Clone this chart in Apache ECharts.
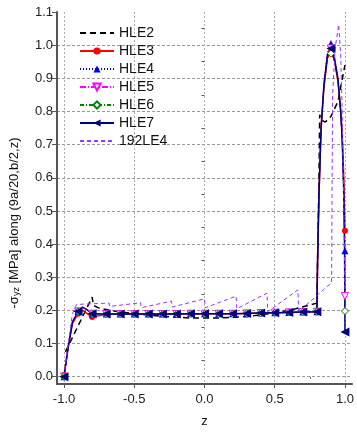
<!DOCTYPE html>
<html>
<head>
<meta charset="utf-8">
<script src="https://cdn.jsdelivr.net/npm/echarts@6/dist/echarts.min.js"></script>
<style>
  html, body { margin: 0; padding: 0; background: #fff; }
  #chart { width: 357px; height: 433px; }
</style>
</head>
<body>
<div id="chart"></div>
<script>
// tick positions
const xTicks = [-1, -0.5, 0, 0.5, 1]
const xMinor = [-0.75, -0.25, 0.25, 0.75]
const yTicks = [0, 0.1, 0.2, 0.3, 0.4, 0.5, 0.6, 0.7, 0.8, 0.9, 1.0, 1.1]
const yMinor = [0.05, 0.15, 0.25, 0.35, 0.45, 0.55, 0.65, 0.75, 0.85, 0.95, 1.05]

// z stations shared by the HLE3..HLE7 curves, markers drawn at markZ only
const zHle = [-1, -0.97, -0.94, -0.9, -0.87, -0.84, -0.8, -0.7, -0.6, -0.5, -0.4, -0.3, -0.2, -0.1, 0, 0.1, 0.2, 0.3, 0.4, 0.5, 0.6, 0.7,
  0.8, 0.805, 0.815, 0.83, 0.85, 0.875, 0.9, 0.925, 0.95, 0.97, 0.98, 0.99, 0.997, 1.0]
const markZ = [-1, -0.9, -0.8, -0.7, -0.6, -0.5, -0.4, -0.3, -0.2, -0.1, 0, 0.1, 0.2, 0.3, 0.4, 0.5, 0.6, 0.7, 0.8, 0.9, 1.0]

const hle3 = [0.005, 0.09, 0.16, 0.19, 0.2, 0.192, 0.18, 0.188, 0.188, 0.188, 0.188, 0.188, 0.189, 0.189, 0.19, 0.19, 0.19, 0.191, 0.192, 0.193, 0.194, 0.195,
  0.196, 0.35, 0.55, 0.75, 0.87, 0.96, 0.98, 0.955, 0.89, 0.8, 0.73, 0.62, 0.5, 0.44]
const hle4 = [0.0, 0.09, 0.165, 0.197, 0.21, 0.203, 0.19, 0.189, 0.189, 0.189, 0.189, 0.189, 0.189, 0.19, 0.19, 0.19, 0.19, 0.191, 0.192, 0.193, 0.194, 0.195,
  0.196, 0.35, 0.55, 0.75, 0.88, 0.98, 1.005, 0.97, 0.9, 0.8, 0.72, 0.6, 0.46, 0.38]
const hle5 = [0.0, 0.09, 0.165, 0.197, 0.21, 0.203, 0.19, 0.189, 0.189, 0.189, 0.189, 0.189, 0.189, 0.19, 0.19, 0.19, 0.19, 0.191, 0.192, 0.193, 0.194, 0.195,
  0.196, 0.35, 0.55, 0.75, 0.88, 0.97, 0.99, 0.96, 0.9, 0.8, 0.72, 0.58, 0.42, 0.243]
const hle6 = [0.0, 0.09, 0.165, 0.197, 0.21, 0.203, 0.19, 0.189, 0.189, 0.189, 0.189, 0.189, 0.189, 0.19, 0.19, 0.19, 0.19, 0.191, 0.192, 0.193, 0.194, 0.195,
  0.196, 0.35, 0.55, 0.75, 0.87, 0.96, 0.975, 0.95, 0.89, 0.79, 0.71, 0.57, 0.4, 0.198]
const hle7 = [0.0, 0.09, 0.165, 0.197, 0.21, 0.203, 0.19, 0.189, 0.189, 0.189, 0.189, 0.189, 0.189, 0.19, 0.19, 0.19, 0.19, 0.191, 0.192, 0.193, 0.194, 0.195,
  0.196, 0.35, 0.55, 0.75, 0.88, 0.97, 0.99, 0.96, 0.9, 0.8, 0.72, 0.58, 0.4, 0.135]

const zHle2 = [-0.99, -0.8, -0.79, -0.75, -0.65, -0.5, -0.3, -0.1, 0.1, 0.3, 0.5, 0.65, 0.8, 0.805, 0.815, 0.82, 0.83, 0.86, 0.9, 0.95, 1.0]
const hle2 = [0.075, 0.24, 0.215, 0.207, 0.198, 0.19, 0.182, 0.177, 0.177, 0.181, 0.192, 0.205, 0.222, 0.225, 0.6, 0.79, 0.775, 0.768, 0.785, 0.83, 0.94]

const z192 = [-1, -0.97, -0.94, -0.91, -0.68, -0.675, -0.455, -0.45, -0.235, -0.23, 0.0, 0.005, 0.225, 0.23, 0.445, 0.45, 0.665, 0.67,
  0.905, 0.908, 0.912, 0.93, 0.955, 0.97, 0.98, 0.99, 1.0]
const le192 = [0.0, 0.1, 0.19, 0.218, 0.222, 0.212, 0.223, 0.208, 0.228, 0.21, 0.235, 0.208, 0.243, 0.205, 0.252, 0.196, 0.262, 0.196,
  0.284, 0.55, 0.85, 0.99, 1.062, 0.97, 0.8, 0.55, 0.26]

const isMark = (z) => markZ.some((m) => Math.abs(m - z) < 1e-6)
const hleData = (vals) => zHle.map((z, i) => isMark(z) ? [z, vals[i]] : { value: [z, vals[i]], symbol: 'none' })
const pairs = (zs, vals) => zs.map((z, i) => [z, vals[i]])

const chart = echarts.init(document.getElementById('chart'), null, { renderer: 'canvas' })

const font = '"Liberation Sans", Arial, sans-serif'
const noIcon = { color: 'rgba(0,0,0,0)', borderWidth: 0 }

chart.setOption({
  animation: false,
  backgroundColor: '#fff',
  textStyle: { fontFamily: font },
  grid: { left: 57, right: 2, top: 12, bottom: 40 },
  legend: {
    orient: 'vertical', left: 79, top: 26, padding: 0,
    itemWidth: 34, itemHeight: 9, itemGap: 4,
    textStyle: { fontSize: 14, color: '#111', fontFamily: font, lineHeight: 14 },
    data: [
      { name: 'HLE2', itemStyle: noIcon },
      'HLE3', 'HLE4', 'HLE5', 'HLE6', 'HLE7',
      { name: '192LE4', itemStyle: noIcon },
    ],
  },
  xAxis: [{
    type: 'value', min: -1.05, max: 1.05,
    name: 'z', nameLocation: 'middle', nameGap: 31,
    nameTextStyle: { fontSize: 13, color: '#111', fontFamily: font },
    axisLine: { onZero: false, lineStyle: { color: '#555', width: 2 } },
    axisTick: { customValues: xTicks, length: 4, lineStyle: { color: '#555' } },
    axisLabel: { customValues: xTicks, formatter: (v) => v.toFixed(1), fontSize: 13, color: '#222', fontFamily: font, margin: 9 },
    splitLine: { show: true, lineStyle: { color: '#aaa', type: [2, 2] } },
  }, {
    type: 'value', min: -1.05, max: 1.05, position: 'bottom',
    axisLine: { show: false },
    axisTick: { customValues: xMinor, length: 2, lineStyle: { color: '#555' } },
    axisLabel: { show: false }, splitLine: { show: false },
  }],
  yAxis: [{
    type: 'value', min: -0.022, max: 1.1,
    name: '-σ{s|yz} [MPa] along (9a/20,b/2,z)', nameLocation: 'middle', nameGap: 36,
    nameTextStyle: {
      fontSize: 13, color: '#111', fontFamily: font, padding: [0, 50, 0, 0],
      rich: { s: { fontSize: 9, verticalAlign: 'bottom', color: '#111', fontFamily: font } },
    },
    axisLine: { show: true, onZero: false, lineStyle: { color: '#555', width: 2 } },
    axisTick: { customValues: yTicks, length: 5, lineStyle: { color: '#555' } },
    axisLabel: { customValues: yTicks, formatter: (v) => v.toFixed(1), fontSize: 13, color: '#222', fontFamily: font, margin: 4 },
    splitLine: { show: true, showMaxLine: false, lineStyle: { color: '#999', type: [3, 2] } },
  }, {
    type: 'value', min: -0.022, max: 1.1, position: 'left',
    axisLine: { show: false },
    axisTick: { show: true, customValues: yMinor, length: 3, lineStyle: { color: '#555' } },
    axisLabel: { show: false }, splitLine: { show: false },
  }],
  series: [
    {
      name: 'HLE2', type: 'line', data: pairs(zHle2, hle2), symbol: 'none',
      lineStyle: { color: '#000', width: 1.5, type: [6, 4] }, itemStyle: { color: '#000' },
    },
    {
      name: 'HLE3', type: 'line', data: hleData(hle3), symbol: 'circle', symbolSize: 6,
      lineStyle: { color: '#ff0000', width: 1.5 }, itemStyle: { color: '#ff0000' },
    },
    {
      name: 'HLE4', type: 'line', data: hleData(hle4), symbol: 'triangle', symbolSize: 7,
      lineStyle: { color: '#0000ff', width: 1, type: [1, 2] }, itemStyle: { color: '#0000ff' },
    },
    {
      name: 'HLE5', type: 'line', data: hleData(hle5), symbol: 'triangle', symbolSize: 7, symbolRotate: 180,
      lineStyle: { color: '#ff00ff', width: 1, type: [6, 2, 1, 2] },
      itemStyle: { color: '#fff', borderColor: '#ff00ff', borderWidth: 1 },
    },
    {
      name: 'HLE6', type: 'line', data: hleData(hle6), symbol: 'diamond', symbolSize: 7,
      lineStyle: { color: '#008000', width: 1, type: [4, 2, 1, 2] },
      itemStyle: { color: '#fff', borderColor: '#008000', borderWidth: 1 },
    },
    {
      name: 'HLE7', type: 'line', data: hleData(hle7), symbol: 'triangle', symbolSize: 9, symbolRotate: 90,
      lineStyle: { color: '#000080', width: 1.5 }, itemStyle: { color: '#000080' },
    },
    {
      name: '192LE4', type: 'line', data: pairs(z192, le192), symbol: 'none',
      lineStyle: { color: '#9933ff', width: 1, type: [4, 3] }, itemStyle: { color: '#9933ff' },
    },
  ],
})
</script>
</body>
</html>
